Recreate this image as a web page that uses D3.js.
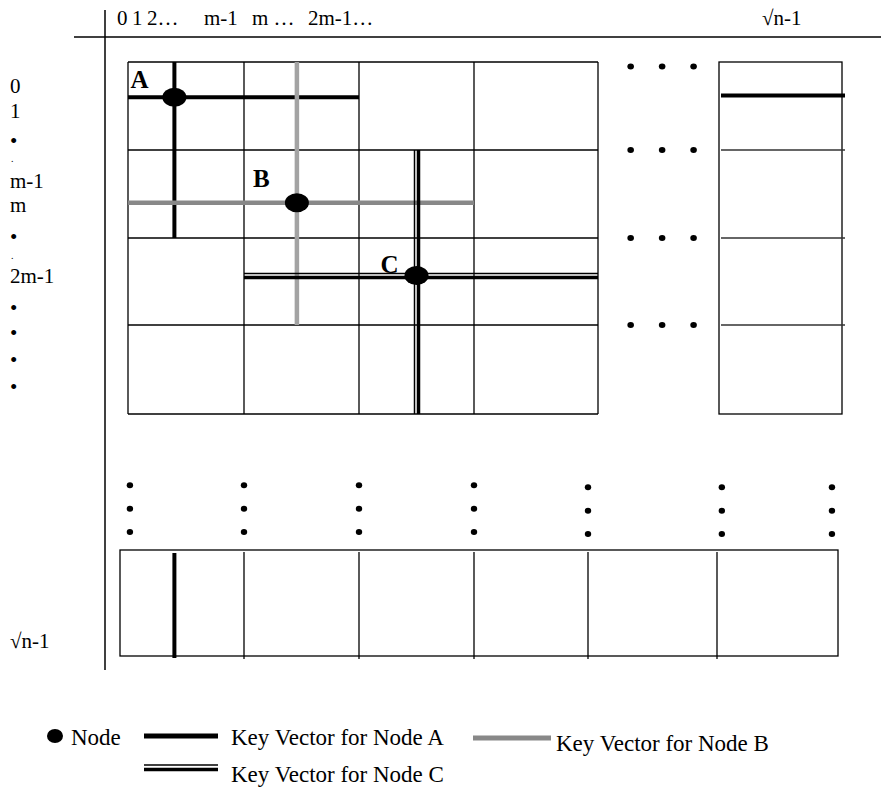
<!DOCTYPE html>
<html>
<head>
<meta charset="utf-8">
<script src="https://cdn.jsdelivr.net/npm/d3@7"></script>
<style>
  body { margin: 0; background: #fff; }
  text { font-family: "Liberation Serif", "Times New Roman", serif; fill: #000; }
</style>
</head>
<body>
<div id="chart"></div>
<script>
// grid blocks (logical units: one block = m rows/cols)
const mainCols = [0, 1, 2, 3, 4];
const mainRows = [0, 1, 2, 3, 4];
const rightCol = [5, 6];
const bottomCols = [0, 1, 2, 3, 4, 5, 6];

const colLabels = ["0", "1", "2…", "m-1", "m …", "2m-1…"];
const lastLabel = "√n-1";
const rowLabels = ["0", "1", "•", ".", "m-1", "m", "•", ".", "2m-1", "•", "•", "•", "•"];

const nodes = [
  {name: "A", col: 0.4, row: 0.4},
  {name: "B", col: 1.46, row: 1.6},
  {name: "C", col: 2.5, row: 2.43}
];

// key vectors: horizontal (row fixed) or vertical (col fixed)
const vectors = [
  {node: "A", dir: "h", at: 0.4, from: 0, to: 2},
  {node: "A", dir: "v", at: 0.4, from: 0, to: 2},
  {node: "B", dir: "v", at: 1.46, from: 0, to: 3},
  {node: "B", dir: "h", at: 1.6, from: 0, to: 3},
  {node: "C", dir: "v", at: 2.5, from: 1, to: 4},
  {node: "C", dir: "h", at: 2.43, from: 1, to: 4}
];

const legendLabels = ["Node", "Key Vector for Node A", "Key Vector for Node B", "Key Vector for Node C"];

const width = 881, height = 789;
const svg = d3.select('#chart').append('svg')
  .attr('width', width)
  .attr('height', height);

const x = d3.scaleLinear().domain([0, 1, 2, 3, 4, 5, 6]).range([128, 244, 359, 474, 598, 719, 842]);
const y = d3.scaleLinear().domain([0, 1, 2, 3, 4]).range([62, 150, 238, 325, 414]);
const xb = d3.scaleLinear().domain([0, 1, 2, 3, 4, 5, 6]).range([120, 244, 359, 474, 588, 717, 838]);
const yb = d3.scaleLinear().domain([0, 1]).range([550, 656]);

// axes lines
svg.append('line').attr('x1', 74).attr('x2', 881).attr('y1', 37).attr('y2', 37)
  .attr('stroke', '#000').attr('stroke-width', 1.5);
svg.append('line').attr('x1', 105).attr('x2', 105).attr('y1', 10).attr('y2', 670)
  .attr('stroke', '#000').attr('stroke-width', 1.5);

// header labels
const headerX = [117, 132, 147, 204, 252, 308];
svg.append('g').selectAll('text').data(colLabels).enter().append('text')
  .attr('x', (d, i) => headerX[i]).attr('y', 25)
  .attr('font-size', 21).style('white-space', 'pre')
  .text(d => d);
svg.append('text').attr('x', 762).attr('y', 25).attr('font-size', 21).text(lastLabel);

// left labels (small periods get a smaller size so they sit under the bullets)
const rowY = [93, 118, 148, 162, 188, 212, 244, 259, 283, 315, 340, 367, 394];
svg.append('g').selectAll('text').data(rowLabels).enter().append('text')
  .attr('x', (d, i) => d === '.' ? 11 : 10).attr('y', (d, i) => rowY[i])
  .attr('font-size', d => d === '.' ? 10 : 21)
  .text(d => d);
svg.append('text').attr('x', 10).attr('y', 648).attr('font-size', 21).text(lastLabel);

// main grid
const grid = svg.append('g').attr('stroke', '#000').attr('stroke-width', 1.3);
grid.selectAll('.vl').data(mainCols).enter().append('line')
  .attr('x1', d => x(d)).attr('x2', d => x(d))
  .attr('y1', y(0)).attr('y2', y(4));
grid.selectAll('.hl').data(mainRows).enter().append('line')
  .attr('y1', d => y(d)).attr('y2', d => y(d))
  .attr('x1', x(0)).attr('x2', x(4));

// right column
const rc = svg.append('g').attr('stroke', '#000').attr('stroke-width', 1.3);
rc.append('rect').attr('x', x(rightCol[0])).attr('y', y(0))
  .attr('width', x(rightCol[1]) - x(rightCol[0])).attr('height', y(4) - y(0)).attr('fill', 'none');
rc.selectAll('line').data([1, 2, 3]).enter().append('line')
  .attr('stroke', '#333')
  .attr('x1', x(5) + 2).attr('x2', x(6) + 3)
  .attr('y1', d => y(d)).attr('y2', d => y(d));
svg.append('line').attr('stroke', '#000').attr('stroke-width', 4)
  .attr('x1', x(5) + 2).attr('x2', x(6) + 3)
  .attr('y1', y(0.38)).attr('y2', y(0.38));

// horizontal ellipsis between main grid and right column
const hDotsX = [4.27, 4.53, 4.79];
const hDotsY = [0.05, 1, 2, 3];
svg.append('g').selectAll('g').data(hDotsY).enter().append('g')
  .each(function(r) {
    d3.select(this).selectAll('ellipse').data(hDotsX).enter().append('ellipse')
      .attr('cx', c => x(c)).attr('cy', y(r)).attr('rx', 3.3).attr('ry', 3)
      .attr('fill', '#000');
  });

// vertical ellipsis above bottom row
const vDotsX = [0.08, 1, 2, 3, 4, 5.04, 5.95];
const vDotsY = [-0.61, -0.39, -0.17];
svg.append('g').selectAll('g').data(vDotsX).enter().append('g')
  .each(function(c, i) {
    d3.select(this).selectAll('ellipse').data(vDotsY).enter().append('ellipse')
      .attr('cx', xb(c)).attr('cy', r => yb(r) + (i >= 4 ? 2 : 0))
      .attr('rx', 3.2).attr('ry', 3).attr('fill', '#000');
  });

// bottom row
const br = svg.append('g').attr('stroke', '#000').attr('stroke-width', 1.3);
br.append('rect').attr('x', xb(0)).attr('y', yb(0))
  .attr('width', xb(6) - xb(0)).attr('height', yb(1) - yb(0)).attr('fill', 'none');
br.selectAll('line').data(bottomCols.slice(1, 6)).enter().append('line')
  .attr('x1', d => xb(d)).attr('x2', d => xb(d))
  .attr('y1', yb(0) + 2).attr('y2', yb(1) + 3);
svg.append('line').attr('stroke', '#000').attr('stroke-width', 4)
  .attr('x1', x(0.4)).attr('x2', x(0.4))
  .attr('y1', yb(0) + 3).attr('y2', yb(1) + 2);

// key vectors
function vecCoords(v) {
  return v.dir === 'h'
    ? {x1: x(v.from), x2: x(v.to), y1: y(v.at), y2: y(v.at)}
    : {x1: x(v.at), x2: x(v.at), y1: y(v.from), y2: y(v.to)};
}
const vg = svg.append('g');
vectors.forEach(v => {
  const c = vecCoords(v);
  if (v.node === 'A') {
    vg.append('line').attr('x1', c.x1).attr('x2', c.x2).attr('y1', c.y1).attr('y2', c.y2)
      .attr('stroke', '#000').attr('stroke-width', 4);
  } else if (v.node === 'B') {
    vg.append('line').attr('x1', c.x1).attr('x2', c.x2).attr('y1', c.y1).attr('y2', c.y2)
      .attr('stroke', v.dir === 'h' ? '#888' : '#a3a3a3').attr('stroke-width', 4.5);
  } else {
    const dx = v.dir === 'v' ? 1 : 0, dy = v.dir === 'h' ? 1 : 0;
    vg.append('line')
      .attr('x1', c.x1 - 2 * dx).attr('x2', c.x2 - 2 * dx)
      .attr('y1', c.y1 - 2 * dy).attr('y2', c.y2 - 2 * dy)
      .attr('stroke', '#000').attr('stroke-width', 1.5);
    vg.append('line')
      .attr('x1', c.x1 + 2 * dx).attr('x2', c.x2 + 2 * dx)
      .attr('y1', c.y1 + 2 * dy).attr('y2', c.y2 + 2 * dy)
      .attr('stroke', '#000').attr('stroke-width', 3.5);
  }
});

// nodes and labels
const labelOffset = {A: [-44, -9], B: [-44, -16], C: [-36, -2]};
svg.append('g').selectAll('ellipse').data(nodes).enter().append('ellipse')
  .attr('cx', d => x(d.col)).attr('cy', d => y(d.row))
  .attr('rx', 12).attr('ry', 9.5).attr('fill', '#000');
svg.append('g').selectAll('text').data(nodes).enter().append('text')
  .attr('x', d => x(d.col) + labelOffset[d.name][0])
  .attr('y', d => y(d.row) + labelOffset[d.name][1])
  .attr('font-size', 25).attr('font-weight', 'bold')
  .text(d => d.name);

// legend
const lg = svg.append('g');
lg.append('ellipse').attr('cx', 55).attr('cy', 736).attr('rx', 8).attr('ry', 7).attr('fill', '#000');
lg.append('text').attr('x', 71).attr('y', 745).attr('font-size', 23).text(legendLabels[0]);
lg.append('line').attr('x1', 144).attr('x2', 218).attr('y1', 736).attr('y2', 736)
  .attr('stroke', '#000').attr('stroke-width', 5);
lg.append('text').attr('x', 231).attr('y', 745).attr('font-size', 23).text(legendLabels[1]);
lg.append('line').attr('x1', 473).attr('x2', 551).attr('y1', 738).attr('y2', 738)
  .attr('stroke', '#888').attr('stroke-width', 5);
lg.append('text').attr('x', 556).attr('y', 751).attr('font-size', 23).text(legendLabels[2]);
lg.append('line').attr('x1', 144).attr('x2', 218).attr('y1', 765).attr('y2', 765)
  .attr('stroke', '#000').attr('stroke-width', 1.5);
lg.append('line').attr('x1', 144).attr('x2', 218).attr('y1', 769.5).attr('y2', 769.5)
  .attr('stroke', '#000').attr('stroke-width', 3.5);
lg.append('text').attr('x', 231).attr('y', 782).attr('font-size', 23).text(legendLabels[3]);
</script>
</body>
</html>
